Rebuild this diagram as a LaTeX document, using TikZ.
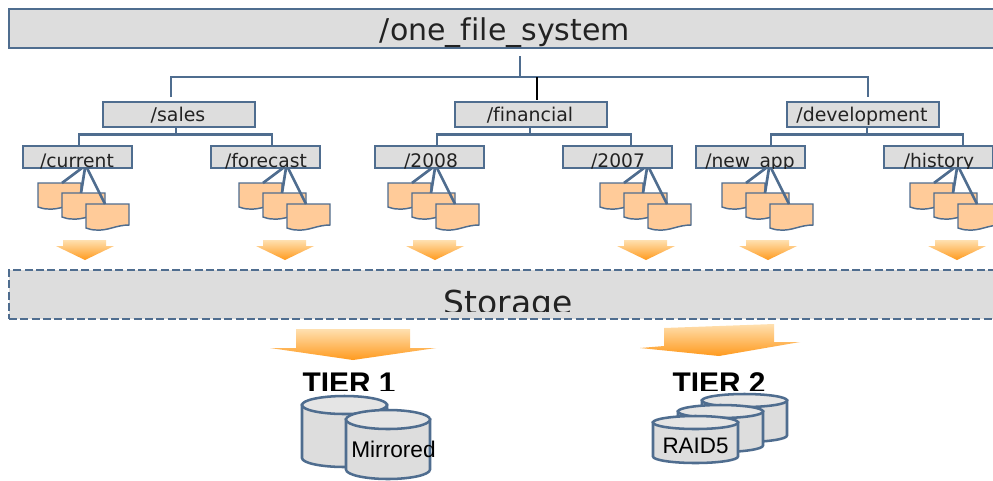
\documentclass[tikz,border=0pt]{standalone}
\usepackage{fontspec}
\setmainfont[Ligatures=NoCommon]{DejaVu Sans}
\newfontfamily\arialfont{Liberation Sans}
\usetikzlibrary{fit}
\definecolor{edgeblue}{HTML}{4F6D8F}
\definecolor{boxgray}{HTML}{DDDDDD}
\definecolor{cyltop}{HTML}{E5E5E5}
\definecolor{docfill}{HTML}{FFCB99}
\definecolor{inktext}{HTML}{222222}
\definecolor{arrowtop}{HTML}{FFE0B0}
\definecolor{arrowbot}{HTML}{FF9A1E}
\tikzset{
  panel/.style={draw=edgeblue,fill=boxgray,line width=1.1pt,inner sep=0pt},
  wire/.style={draw=edgeblue,line width=2.1pt},
  docwire/.style={draw=edgeblue,line width=2pt},
  docshape/.style={draw=edgeblue,fill=docfill,line width=1.1pt},
  cylshape/.style={draw=edgeblue,fill=boxgray,line width=1.9pt},
  cyllid/.style={draw=edgeblue,fill=cyltop,line width=1.9pt},
  arrowfill/.style={top color=arrowtop,bottom color=arrowbot},
  small/.style={font=\fontsize{14}{16}\selectfont,text=inktext,anchor=base,inner sep=0pt},
  mid/.style={font=\fontsize{14.2}{16}\selectfont,text=inktext,anchor=base,inner sep=0pt},
}
\newcommand{\panelbox}[5]{% name x0 y0 x1 y1
  \coordinate (#1-nw) at (#2,#3);
  \coordinate (#1-se) at (#4,#5);
  \node[panel,fit=(#1-nw)(#1-se)] (#1) {};
}
\newcommand{\leafbox}[4]{% name x0 labelx text
  \panelbox{#1}{#2}{146}{\the\numexpr#2+109\relax}{168}
  \begin{scope}
    \clip (#2,146) rectangle (\the\numexpr#2+109\relax,168);
    \node[small] (#1-t) at (#3,167) {#4};
  \end{scope}
}
\newcommand{\midbox}[4]{% name x0 labelx text
  \panelbox{#1}{#2}{102}{\the\numexpr#2+152\relax}{127}
  \node[mid] (#1-t) at (#3,121) {#4};
}
\newcommand{\onedoc}[2]{% x y
  \path[docshape,shift={(#1,#2)}] (0,0)--(43,0)--(43,21)
    .. controls (30,21) and (22,27) .. (10,26)
    .. controls (6,26) and (3,25) .. (0,24) -- cycle;
}
\newcommand{\docgroup}[2]{% parent, x0
  \onedoc{#2}{183}
  \onedoc{\the\numexpr#2+24\relax}{193}
  \onedoc{\the\numexpr#2+48\relax}{204}
  \coordinate (#1-ea) at (\the\numexpr#2+24\relax,183);
  \coordinate (#1-eb) at (\the\numexpr#2+43\relax,193);
  \coordinate (#1-ec) at (\the\numexpr#2+67\relax,204);
  \coordinate (#1-sa) at (\the\numexpr#2+44\relax,168);
  \coordinate (#1-sb) at (\the\numexpr#2+47\relax,168);
  \coordinate (#1-sc) at (\the\numexpr#2+49\relax,168);
  \draw[docwire] (#1-sa) -- (#1-ea);
  \draw[docwire] (#1-sb) -- (#1-eb);
  \draw[docwire] (#1-sc) -- (#1-ec);
}
\newcommand{\smallarrow}[1]{%
  \path[arrowfill,shift={(#1,0)}] (-22,240)--(21,240)--(21,246)--(29,246)--(0,260)--(-29,246)--(-22,246)--cycle;
}
\newcommand{\cyl}[5]{% x0 x1 top bottom ry
  \pgfmathsetmacro{\cxm}{(#1+#2)/2}
  \pgfmathsetmacro{\crx}{(#2-#1)/2}
  \pgfmathsetmacro{\ctop}{#3+#5}
  \pgfmathsetmacro{\cbot}{#4-#5}
  \pgfmathsetmacro{\ckx}{0.55*\crx}
  \pgfmathsetmacro{\cky}{0.55*#5}
  \path[cylshape] (#1,\ctop) -- (#1,\cbot)
    .. controls (#1,\cbot+\cky) and (\cxm-\ckx,#4) .. (\cxm,#4)
    .. controls (\cxm+\ckx,#4) and (#2,\cbot+\cky) .. (#2,\cbot)
    -- (#2,\ctop) -- cycle;
  \path[cyllid] (#1,\ctop)
    .. controls (#1,\ctop-\cky) and (\cxm-\ckx,#3) .. (\cxm,#3)
    .. controls (\cxm+\ckx,#3) and (#2,\ctop-\cky) .. (#2,\ctop)
    .. controls (#2,\ctop+\cky) and (\cxm+\ckx,\ctop+#5) .. (\cxm,\ctop+#5)
    .. controls (\cxm-\ckx,\ctop+#5) and (#1,\ctop+\cky) .. (#1,\ctop) -- cycle;
}
\newcommand{\subbus}[4]{% parent x-mid x-left x-right
  \coordinate (#1-h) at (#2,134.5);
  \coordinate (#1-hl) at (#3,134.5);
  \coordinate (#1-hr) at (#4,134.5);
  \coordinate (#1-dl) at (#3,145);
  \coordinate (#1-dr) at (#4,145);
  \coordinate (#1-up) at (#2,127);
  \draw[wire] (#1-up) -- (#1-h);
  \draw[wire] (#1-dl) -- (#1-hl) -- (#1-hr) -- (#1-dr);
}
\begin{document}
\begin{tikzpicture}[x=0.75pt,y=-0.75pt]
\clip (0,0) rectangle (993,480);
\fill[white] (0,0) rectangle (993,480);

% root
\panelbox{root}{9}{9}{1005}{48}
\node[font=\fontsize{22.5}{24}\selectfont,text=inktext,anchor=base,inner sep=0pt] (root-t) at (505,40.5) {/one\_file\_system};

% trunk
\coordinate (trunk-a) at (520,56);
\coordinate (trunk-b) at (520,77);
\coordinate (bus-l) at (171,77);
\coordinate (bus-r) at (868,77);
\coordinate (bus-m) at (537,77);
\coordinate (drop-l) at (171,97);
\coordinate (drop-r) at (868,97);
\coordinate (drop-m) at (537,100);
\draw[wire] (trunk-a) -- (trunk-b);
\draw[wire] (drop-l) -- (bus-l) -- (bus-r) -- (drop-r);
\draw[black,line width=1.7pt] (bus-m) -- (drop-m);

% second level
\midbox{sales}{103}{178}{/sales}
\midbox{financial}{455}{530}{/financial}
\midbox{development}{787}{862}{/development}

\subbus{sales}{176}{79}{272}
\subbus{financial}{530}{437}{631}
\subbus{development}{867}{771}{963}

% leaves
\leafbox{current}{23}{77}{/current}
\leafbox{forecast}{211}{266}{/forecast}
\leafbox{y2008}{375}{431}{/2008}
\leafbox{y2007}{563}{618}{/2007}
\leafbox{newapp}{696}{750}{/new\_app}
\leafbox{history}{884}{939}{/history}

\docgroup{current}{38}
\docgroup{forecast}{239}
\docgroup{y2008}{388}
\docgroup{y2007}{600}
\docgroup{newapp}{722}
\docgroup{history}{910}

\smallarrow{85}
\smallarrow{285}
\smallarrow{435}
\smallarrow{646}
\smallarrow{768}
\smallarrow{957}

% storage
\coordinate (st-nw) at (9,270);
\coordinate (st-se) at (1005,319);
\node[panel,dash pattern=on 6pt off 2.5pt,fit=(st-nw)(st-se)] (storage) {};
\begin{scope}
  \clip (0,260) rectangle (993,311);
  \node[font=\fontsize{24.7}{26}\selectfont,text=inktext,anchor=base,inner sep=0pt] (storage-t) at (508,314) {Storage};
\end{scope}

% big arrows
\path[arrowfill] (296,329)--(410,329)--(410,348)--(436,348)--(353,360)--(270,348)--(296,348)--cycle;
\path[arrowfill] (664,328)--(774,324)--(774,342)--(800,342)--(719,356)--(640,348)--(664,346)--cycle;

% tier titles
\begin{scope}
  \clip (260,360) rectangle (800,390);
  \node[font=\arialfont\bfseries\fontsize{22.4}{24}\selectfont,text=black,anchor=base,inner sep=0pt] (tier1) at (349,393) {TIER 1};
  \node[font=\arialfont\bfseries\fontsize{22.4}{24}\selectfont,text=black,anchor=base,inner sep=0pt] (tier2) at (719,393) {TIER 2};
\end{scope}

% cylinders
\cyl{302}{387}{396}{467}{9}
\cyl{346}{430}{410}{479}{9.5}
\node[font=\arialfont\fontsize{17}{19}\selectfont,text=black,anchor=base,inner sep=0pt] (mirrored) at (393.5,457) {Mirrored};
\cyl{702}{787}{394}{442}{6.5}
\cyl{678}{763}{405}{452}{6.5}
\cyl{653}{738}{416}{463}{6.5}
\node[font=\arialfont\fontsize{16.8}{19}\selectfont,text=black,anchor=base,inner sep=0pt] (raid) at (695.5,453) {RAID5};
\end{tikzpicture}
\end{document}
